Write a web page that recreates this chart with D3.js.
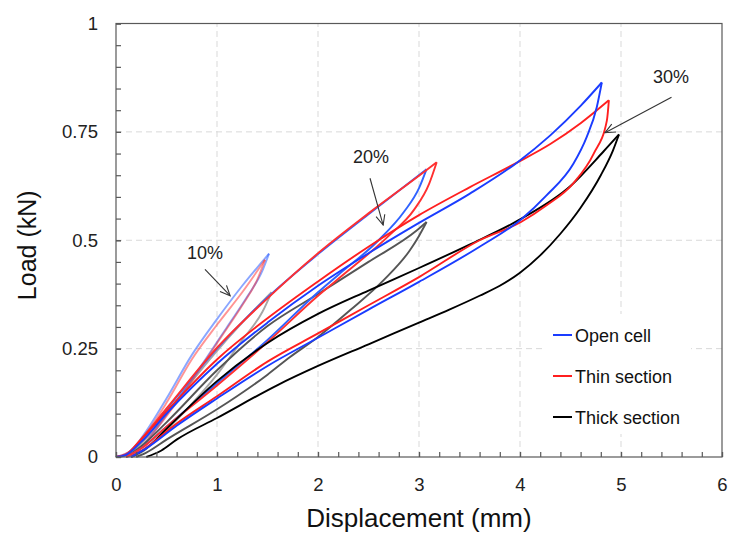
<!DOCTYPE html>
<html>
<head>
<meta charset="utf-8">
<script src="https://cdn.jsdelivr.net/npm/d3@7"></script>
<style>
  html, body { margin: 0; padding: 0; background: #fff; }
  svg { display: block; font-family: "Liberation Sans", Arial, sans-serif; }
</style>
</head>
<body>
<svg id="chart" width="730" height="536"></svg>
<script>
// ---------------- DATA (displacement mm, load kN) ----------------
const xTicks = [0, 1, 2, 3, 4, 5, 6];
const yTicks = [0, 0.25, 0.5, 0.75, 1];
const yTickLabels = ["0", "0.25", "0.5", "0.75", "1"];
const legendNames = ["Open cell", "Thin section", "Thick section"];

// Open cell (blue)
const open30Load = [[0,0],[0.1,0.005],[0.25,0.035],[0.5,0.1],[1.0,0.215],[1.5,0.31],[2.0,0.395],[2.5,0.47],[3.0,0.54],[3.5,0.607],[3.97,0.679],[4.3,0.742],[4.6,0.81],[4.81,0.864]];
const open30Unload = [[4.81,0.864],[4.76,0.807],[4.66,0.738],[4.53,0.677],[4.26,0.603],[4.01,0.548],[3.6,0.485],[3.0,0.404],[2.5,0.34],[2.0,0.275],[1.5,0.21],[1.0,0.135],[0.6,0.072],[0.3,0.02],[0.15,0]];
const open20Load = [[0,0],[0.1,0.006],[0.25,0.04],[0.5,0.11],[1.0,0.25],[1.33,0.33],[1.5,0.368],[2.0,0.468],[2.5,0.56],[3.075,0.664]];
const open20Unload = [[3.075,0.664],[3.0,0.62],[2.85,0.565],[2.6,0.5],[2.2,0.42],[2.0,0.38],[1.5,0.27],[1.0,0.17],[0.5,0.07],[0.25,0.02],[0.1,0]];
const open10Load = [[0,0],[0.15,0.015],[0.3,0.06],[0.5,0.135],[0.75,0.235],[1.0,0.318],[1.25,0.395],[1.515,0.469]];
const open10Unload = [[1.515,0.469],[1.45,0.43],[1.3,0.37],[1.1,0.3],[0.9,0.23],[0.6,0.13],[0.35,0.05],[0.2,0.01],[0.1,0]];

// Thin section (red)
const thin30Load = [[0,0],[0.1,0.005],[0.25,0.04],[0.5,0.105],[1.0,0.225],[1.5,0.32],[2.0,0.405],[2.5,0.485],[3.0,0.558],[3.5,0.622],[3.97,0.679],[4.3,0.722],[4.6,0.77],[4.88,0.823]];
const thin30Unload = [[4.88,0.823],[4.86,0.776],[4.73,0.7],[4.53,0.632],[4.26,0.58],[4.01,0.542],[3.6,0.5],[3.0,0.415],[2.5,0.35],[2.0,0.285],[1.5,0.22],[1.0,0.14],[0.6,0.077],[0.3,0.022],[0.15,0]];
const thin20Load = [[0,0],[0.1,0.006],[0.25,0.042],[0.5,0.112],[1.0,0.252],[1.5,0.366],[2.0,0.47],[2.5,0.562],[3.075,0.662],[3.175,0.68]];
const thin20Unload = [[3.175,0.68],[3.1,0.63],[2.95,0.57],[2.7,0.51],[2.3,0.43],[2.0,0.372],[1.5,0.265],[1.0,0.165],[0.5,0.07],[0.25,0.02],[0.1,0]];
const thin10Load = [[0,0],[0.15,0.015],[0.3,0.055],[0.5,0.125],[0.75,0.225],[1.0,0.305],[1.25,0.38],[1.475,0.455]];
const thin10Unload = [[1.475,0.455],[1.4,0.41],[1.25,0.35],[1.05,0.28],[0.85,0.21],[0.6,0.125],[0.35,0.05],[0.2,0.01],[0.1,0]];

// Thick section (black / grey)
const thick30Load = [[0.15,0],[0.3,0.02],[0.5,0.065],[1.0,0.175],[1.5,0.263],[2.0,0.33],[2.5,0.384],[3.0,0.436],[3.5,0.49],[4.0,0.548],[4.5,0.625],[4.82,0.703],[4.98,0.744]];
const thick30Unload = [[4.98,0.744],[4.92,0.707],[4.8,0.65],[4.6,0.575],[4.4,0.515],[4.2,0.465],[4.0,0.425],[3.8,0.395],[3.6,0.372],[3.3,0.34],[3.0,0.31],[2.5,0.26],[2.0,0.21],[1.6,0.166],[1.0,0.09],[0.6,0.04],[0.45,0.015],[0.3,0]];
const thick20Load = [[0.1,0],[0.25,0.025],[0.5,0.08],[1.0,0.2],[1.5,0.302],[2.0,0.376],[2.5,0.45],[2.98,0.523],[3.075,0.542]];
const thick20Unload = [[3.075,0.542],[3.0,0.51],[2.91,0.477],[2.65,0.408],[2.32,0.339],[2.0,0.277],[1.72,0.23],[1.5,0.19],[1.0,0.11],[0.5,0.04],[0.3,0.01],[0.2,0]];
const thick10Load = [[0.05,0],[0.2,0.02],[0.4,0.07],[0.7,0.16],[1.0,0.245],[1.25,0.31],[1.54,0.38]];
const thick10Unload = [[1.54,0.38],[1.45,0.335],[1.25,0.27],[1.0,0.19],[0.7,0.11],[0.4,0.04],[0.25,0.01],[0.15,0]];

// ---------------- CHART ----------------
const svg = d3.select("#chart");
const x = d3.scaleLinear().domain([0, 6]).range([116, 722]);
const y = d3.scaleLinear().domain([0, 1]).range([457, 23.5]);
const FONT = '"Liberation Sans", Arial, sans-serif';

// grid
const grid = svg.append("g").attr("stroke", "#d9d9d9").attr("stroke-width", 1).attr("stroke-dasharray", "6,4");
grid.selectAll("line.v").data(xTicks.filter(d => d > 0 && d < 6)).join("line")
  .attr("x1", d => x(d)).attr("x2", d => x(d)).attr("y1", y(0)).attr("y2", y(1));
grid.selectAll("line.h").data(yTicks.filter(d => d > 0 && d < 1)).join("line")
  .attr("x1", x(0)).attr("x2", x(6)).attr("y1", d => y(d)).attr("y2", d => y(d));

// legend background (hides grid)
svg.append("rect").attr("x", 545).attr("y", 314).attr("width", 146).attr("height", 120).attr("fill", "#fff");

// series
const line = d3.line().x(d => x(d[0])).y(d => y(d[1])).curve(d3.curveMonotoneX);
const series = [
  [thick10Load, "#a6a6a6", 1], [thick10Unload, "#a6a6a6", 1],
  [open10Load, "#2a5cff", 0.55], [open10Unload, "#2a5cff", 0.55],
  [thin10Load, "#ff2a2a", 0.5], [thin10Unload, "#ff2a2a", 0.5],
  [thick20Load, "#555555", 1], [thick20Unload, "#555555", 1],
  [open20Load, "#2f62ff", 1], [open20Unload, "#2f62ff", 1],
  [thin20Load, "#ff3030", 1], [thin20Unload, "#ff3030", 1],
  [thick30Load, "#000000", 1], [thick30Unload, "#000000", 1],
  [thin30Load, "#ff1f1f", 1], [thin30Unload, "#ff1f1f", 1],
  [open30Load, "#1a3cff", 1], [open30Unload, "#1a3cff", 1]
];
svg.append("g").attr("fill", "none").attr("stroke-width", 1.9).attr("stroke-linejoin", "round")
  .selectAll("path").data(series).join("path")
  .attr("d", d => line(d[0])).attr("stroke", d => d[1]).attr("stroke-opacity", d => d[2]);

// frame
svg.append("rect").attr("x", x(0)).attr("y", y(1)).attr("width", x(6) - x(0)).attr("height", y(0) - y(1))
  .attr("fill", "none").attr("stroke", "#595959").attr("stroke-width", 1.2);

// axes
const xMinor = d3.range(0, 6.001, 0.2);
const yMinor = d3.range(0, 1.001, 0.05);
const gxm = svg.append("g").attr("transform", `translate(0,${y(0)})`)
  .call(d3.axisBottom(x).tickValues(xMinor).tickSize(-5).tickFormat(""));
const gx = svg.append("g").attr("transform", `translate(0,${y(0)})`)
  .call(d3.axisBottom(x).tickValues(xTicks).tickSize(-5).tickPadding(21).tickFormat(d3.format("d")));
const gym = svg.append("g").attr("transform", `translate(${x(0)},0)`)
  .call(d3.axisLeft(y).tickValues(yMinor).tickSize(-5).tickFormat(""));
const gy = svg.append("g").attr("transform", `translate(${x(0)},0)`)
  .call(d3.axisLeft(y).tickValues(yTicks).tickSize(-5).tickPadding(18).tickFormat((d, i) => yTickLabels[i]));
[gxm, gx, gym, gy].forEach(g => {
  g.select(".domain").remove();
  g.selectAll(".tick line").attr("stroke", "#595959").attr("stroke-width", 1.2);
  g.selectAll("text").attr("font-family", FONT).attr("font-size", 18.5).attr("fill", "#222");
});

// axis titles
svg.append("text").attr("x", x(3)).attr("y", 527).attr("text-anchor", "middle")
  .attr("font-family", FONT).attr("font-size", 26).attr("fill", "#111").text("Displacement (mm)");
svg.append("text").attr("transform", `translate(36,${(y(0) + y(1)) / 2 + 5}) rotate(-90)`).attr("text-anchor", "middle")
  .attr("font-family", FONT).attr("font-size", 25).attr("fill", "#111").text("Load (kN)");

// legend
const legColors = ["#1a3cff", "#ff1f1f", "#000000"];
const leg = svg.append("g");
legendNames.forEach((name, i) => {
  const ly = 335 + i * 41;
  leg.append("line").attr("x1", 553).attr("x2", 572).attr("y1", ly).attr("y2", ly)
    .attr("stroke", legColors[i]).attr("stroke-width", 2);
  leg.append("text").attr("x", 575).attr("y", ly + 6.5).attr("font-family", FONT).attr("font-size", 18)
    .attr("fill", "#111").text(name);
});

// annotations
const defs = svg.append("defs");
defs.append("marker").attr("id", "arr").attr("viewBox", "0 0 12 12").attr("refX", 11).attr("refY", 6)
  .attr("markerWidth", 12).attr("markerHeight", 12).attr("markerUnits", "userSpaceOnUse").attr("orient", "auto")
  .append("path").attr("d", "M1,1.5 L11,6 L1,10.5").attr("fill", "none").attr("stroke", "#333").attr("stroke-width", 1.1);
const notes = [
  { t: "10%", tx: 0.881, ty: 0.472, ax1: 0.881, ay1: 0.433, ax2: 1.13, ay2: 0.372 },
  { t: "20%", tx: 2.525, ty: 0.694, ax1: 2.515, ay1: 0.643, ax2: 2.645, ay2: 0.535 },
  { t: "30%", tx: 5.495, ty: 0.878, ax1: 5.50, ay1: 0.830, ax2: 4.842, ay2: 0.748 }
];
notes.forEach(n => {
  svg.append("text").attr("x", x(n.tx)).attr("y", y(n.ty) + 6.5).attr("text-anchor", "middle")
    .attr("font-family", FONT).attr("font-size", 18).attr("fill", "#222").text(n.t);
  svg.append("line").attr("x1", x(n.ax1)).attr("y1", y(n.ay1)).attr("x2", x(n.ax2)).attr("y2", y(n.ay2))
    .attr("stroke", "#333").attr("stroke-width", 1.1).attr("marker-end", "url(#arr)");
});
</script>
</body>
</html>
